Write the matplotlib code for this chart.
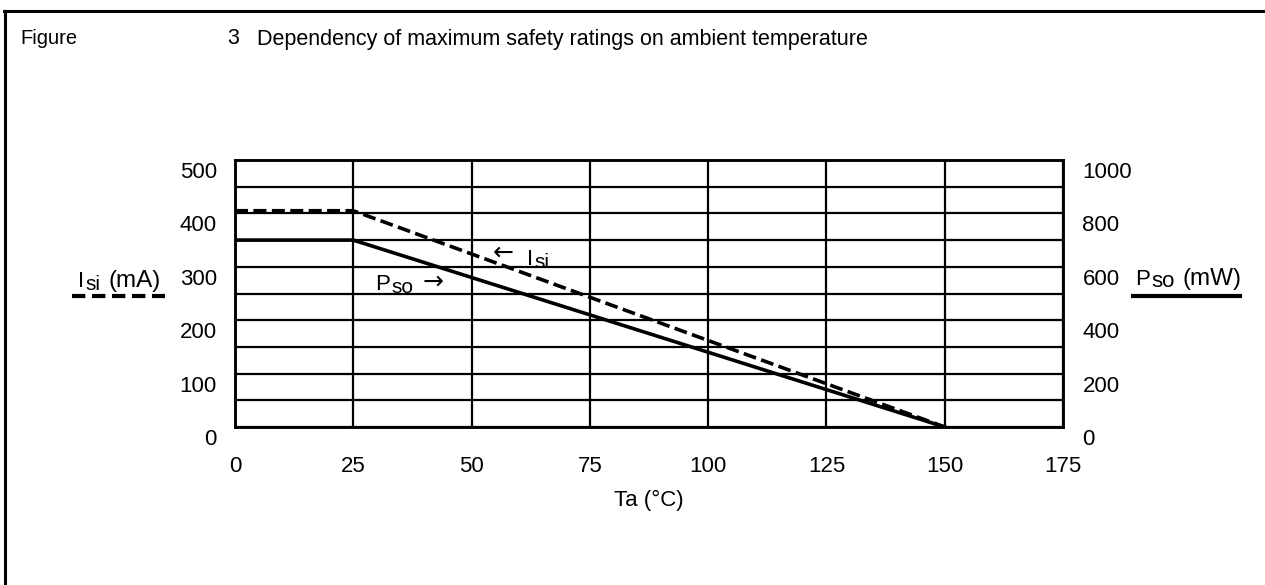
import matplotlib
matplotlib.use("Agg")
import matplotlib.pyplot as plt
from matplotlib.lines import Line2D
from matplotlib.ticker import MultipleLocator
from matplotlib.transforms import ScaledTranslation

plt.rcParams["font.family"] = ["Liberation Sans", "DejaVu Sans"]

# Data
ta = [0, 25, 150]          # ambient temperature (°C)
isi = [405, 405, 0]        # safety input current (mA)
pso = [700, 700, 0]        # safety output power (mW)

x_ticks = [0, 25, 50, 75, 100, 125, 150, 175]
isi_ticks = [0, 100, 200, 300, 400, 500]
pso_ticks = [0, 200, 400, 600, 800, 1000]

W, H = 1265, 585
fs = 16
fig = plt.figure(figsize=(W / 100, H / 100), dpi=100)

# outer frame (top and left edges only visible)
fig.add_artist(Line2D([4 / W, 1], [1 - 11 / H, 1 - 11 / H], color="black", lw=2.2))
fig.add_artist(Line2D([5 / W, 5 / W], [0, 1 - 11 / H], color="black", lw=2.2))

fig.text(20 / W, 1 - 39 / H, "Figure", fontsize=14.5, va="center")
fig.text(227 / W, 1 - 39 / H, "3", fontsize=15.5, va="center")
fig.text(257 / W, 1 - 39 / H, "Dependency of maximum safety ratings on ambient temperature",
         fontsize=15.5, va="center")

ax = fig.add_axes([235 / W, 1 - 427 / H, 828 / W, 267 / H])
ax2 = ax.twinx()

ax.set_xlim(0, 175)
ax.set_ylim(0, 500)
ax2.set_ylim(0, 1000)
ax.set_xticks(x_ticks)
ax.set_yticks(isi_ticks)
ax.yaxis.set_minor_locator(MultipleLocator(50))
ax2.set_yticks(pso_ticks)

ax.grid(True, which="both", color="black", lw=1.6)
ax.set_axisbelow(True)
for a in (ax, ax2):
    for s in a.spines.values():
        s.set_linewidth(1.8)
ax.tick_params(which="both", length=0, labelsize=fs)
ax.tick_params(axis="x", pad=21)
ax.tick_params(axis="y", pad=13)
ax2.tick_params(length=0, labelsize=fs, pad=14)

# y tick labels sit a bit below their grid lines
shift = ScaledTranslation(0, -0.1, fig.dpi_scale_trans)
for lab in ax.get_yticklabels() + ax2.get_yticklabels():
    lab.set_transform(lab.get_transform() + shift)

ax.plot(ta, isi, color="black", lw=2.6, dashes=(3.6, 1.5), zorder=3)
ax2.plot(ta, pso, color="black", lw=2.6, zorder=3)

ax.set_xlabel("Ta (°C)", fontsize=fs, labelpad=9)


# text made of pieces (text, size, gap, drop); each piece follows the previous one,
# small dropped pieces act as subscripts
def chain_text(x, y, pieces, transform):
    base = ax.text(x, y, pieces[0][0], fontsize=pieces[0][1], va="baseline",
                   transform=transform)
    prev = base
    for s, size, dx, dy in pieces[1:]:
        prev = ax.annotate(s, xy=(1, 0), xycoords=(prev, base), xytext=(dx, dy),
                           textcoords="offset points", fontsize=size, va="bottom")
    return prev


fig_px = fig.transFigure
arrow_font = dict(family="DejaVu Sans", fontsize=18, ha="center", va="center")

# curve labels
ax.text(56.8, 326, "←", **arrow_font)
chain_text(61.7, 303.6, [("I", fs), ("si", 15, 1, -1.5)], ax.transData)
chain_text(29.6, 256.8, [("P", fs), ("so", 15, 1, -1.5)], ax.transData)
ax.text(41.9, 272, "→", **arrow_font)

# axis captions with line-style keys
chain_text(78 / W, 1 - 287 / H, [("I", fs), ("si", 15, 1, -1.5), ("(mA)", 17.5, 6, 0)], fig_px)
fig.add_artist(Line2D([72 / W, 165 / W], [1 - 296 / H, 1 - 296 / H], color="black",
                      lw=3, dashes=(3.2, 1.6)))
chain_text(1135 / W, 1 - 285 / H, [("P", fs), ("so", 16, 1, -1.5), ("(mW)", 17.5, 6, 0)],
           fig_px)
fig.add_artist(Line2D([1133 / W, 1240 / W], [1 - 296 / H, 1 - 296 / H], color="black", lw=3))

fig.savefig("out.png", dpi=100)
